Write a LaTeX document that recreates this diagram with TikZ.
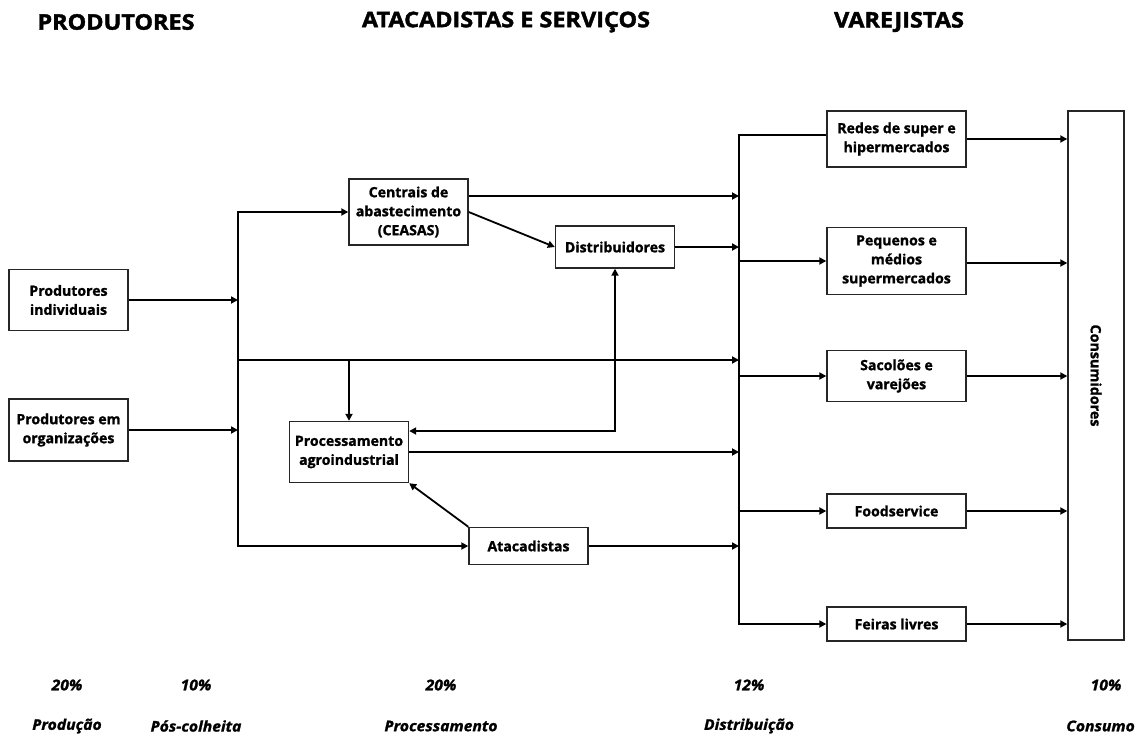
\documentclass[tikz,border=0pt]{standalone}
\usepackage{fontspec}
\setmainfont{Open Sans}[BoldFeatures={FakeBold=1.3}, BoldItalicFeatures={FakeBold=1.3}]
\newfontfamily\wideopen{Open Sans}[BoldFeatures={FakeBold=1.8,FakeStretch=1.09},
  BoldItalicFeatures={FakeBold=1.4,FakeStretch=1.06}]
\usetikzlibrary{arrows.meta}
\begin{document}
\begin{tikzpicture}[x=1pt,y=-1pt,
  box/.style={draw=black!85, line width=1.4pt, fill=white, align=center,
    font=\bfseries\fontsize{14.1}{19}\selectfont, inner sep=1pt},
  conn/.style={line width=1.8pt},
  tip/.style={-{Triangle[length=7pt,width=7pt]}},
  arr/.style={conn, tip},
  head/.style={font=\wideopen\bfseries\fontsize{21.5}{24}\selectfont},
  foot/.style={font=\wideopen\bfseries\itshape\fontsize{14.8}{16}\selectfont}]
\useasboundingbox (0,0) rectangle (1137,736);

% column headings
\node[head] (h1) at (116,22) {PRODUTORES};
\node[head] (h2) at (506,22) {ATACADISTAS E SERVIÇOS};
\node[head] (h3) at (899,22) {VAREJISTAS};

% producers
\node[box, minimum width=119, minimum height=61] (pi) at (68.5,300) {Produtores\\individuais};
\node[box, minimum width=119, minimum height=62] (po) at (68.5,430) {Produtores em\\organizações};

% wholesale and services
\node[box, minimum width=119, minimum height=66] (ceasa) at (408.5,212) {Centrais de\\abastecimento\\(CEASAS)};
\node[box, minimum width=119, minimum height=42] (dist) at (615,247) {Distribuidores};
\node[box, minimum width=119, minimum height=61] (proc) at (349,452) {Processamento\\agroindustrial};
\node[box, minimum width=119, minimum height=37] (atac) at (528.5,546) {Atacadistas};

% retailers
\node[box, minimum width=139, minimum height=56] (redes) at (896.5,139) {Redes de super e\\hipermercados};
\node[box, minimum width=139, minimum height=67] (peq) at (896.5,261) {Pequenos e\\médios\\supermercados};
\node[box, minimum width=139, minimum height=51] (sac) at (896.5,376) {Sacolões e\\varejões};
\node[box, minimum width=139, minimum height=34] (food) at (896.5,511) {Foodservice};
\node[box, minimum width=139, minimum height=34] (feiras) at (896.5,624) {Feiras livres};

% consumers
\node[box, minimum width=56, minimum height=529] (cons) at (1096,375.5) {};
\node[rotate=-90, font=\bfseries\fontsize{14.3}{15}\selectfont] (consl) at (cons.center) {Consumidores};

% collector lines
\coordinate (busL) at (238,0);
\coordinate (busR) at (739,0);
\coordinate (mid) at (238,360);

% producers into the left collector
\draw[arr] (pi.east) -- (pi.east -| busL);
\draw[arr] (po.east) -- (po.east -| busL);

% left collector
\draw[arr] (busL |- atac.west) -- (busL |- ceasa.west) -- (ceasa.west);
\draw[arr] (busL |- ceasa.west) |- (atac.west);
\draw[arr] (mid) -- (mid -| busR);
\draw[arr] (proc.north |- mid) -- (proc.north);

% wholesale links
\draw[arr] ([yshift=16pt]ceasa.east) -- ([yshift=16pt]ceasa.east -| busR);
\draw[arr] (ceasa.east) -- (dist.west);
\draw[arr] (dist.east) -- (dist.east -| busR);
\draw[conn, {Triangle[length=7pt,width=7pt]}-{Triangle[length=7pt,width=7pt]}]
  ([yshift=21pt]proc.east) -| (dist.south);
\draw[arr] (proc.east) -- (proc.east -| busR);
\draw[arr] (atac.north west) -- (proc.south east);
\draw[arr] (atac.east) -- (atac.east -| busR);

% right collector to the retailers
\draw[arr] ([yshift=4pt]redes.west) -| (busR |- feiras.west) -- (feiras.west);
\draw[arr] (busR |- peq.west) -- (peq.west);
\draw[arr] (busR |- sac.west) -- (sac.west);
\draw[arr] (busR |- food.west) -- (food.west);

% retailers to consumers
\draw[arr] (redes.east) -- (redes.east -| cons.west);
\draw[arr] ([yshift=-2pt]peq.east) -- ([yshift=-2pt]peq.east -| cons.west);
\draw[arr] (sac.east) -- (sac.east -| cons.west);
\draw[arr] (food.east) -- (food.east -| cons.west);
\draw[arr] (feiras.east) -- (feiras.east -| cons.west);

% losses per stage
\node[foot] (p1) at (67,685) {20\%};
\node[foot] (p2) at (196,685) {10\%};
\node[foot] (p3) at (441,685) {20\%};
\node[foot] (p4) at (749,685) {12\%};
\node[foot] (p5) at (1106,685) {10\%};
\node[foot] (s1) at (67,726) {Produção};
\node[foot] (s2) at (196,726) {Pós-colheita};
\node[foot] (s3) at (441,726) {Processamento};
\node[foot] (s4) at (749,726) {Distribuição};
\node[foot, anchor=east, inner xsep=1pt] (s5) at (1136,726) {Consumo};
\end{tikzpicture}
\end{document}
